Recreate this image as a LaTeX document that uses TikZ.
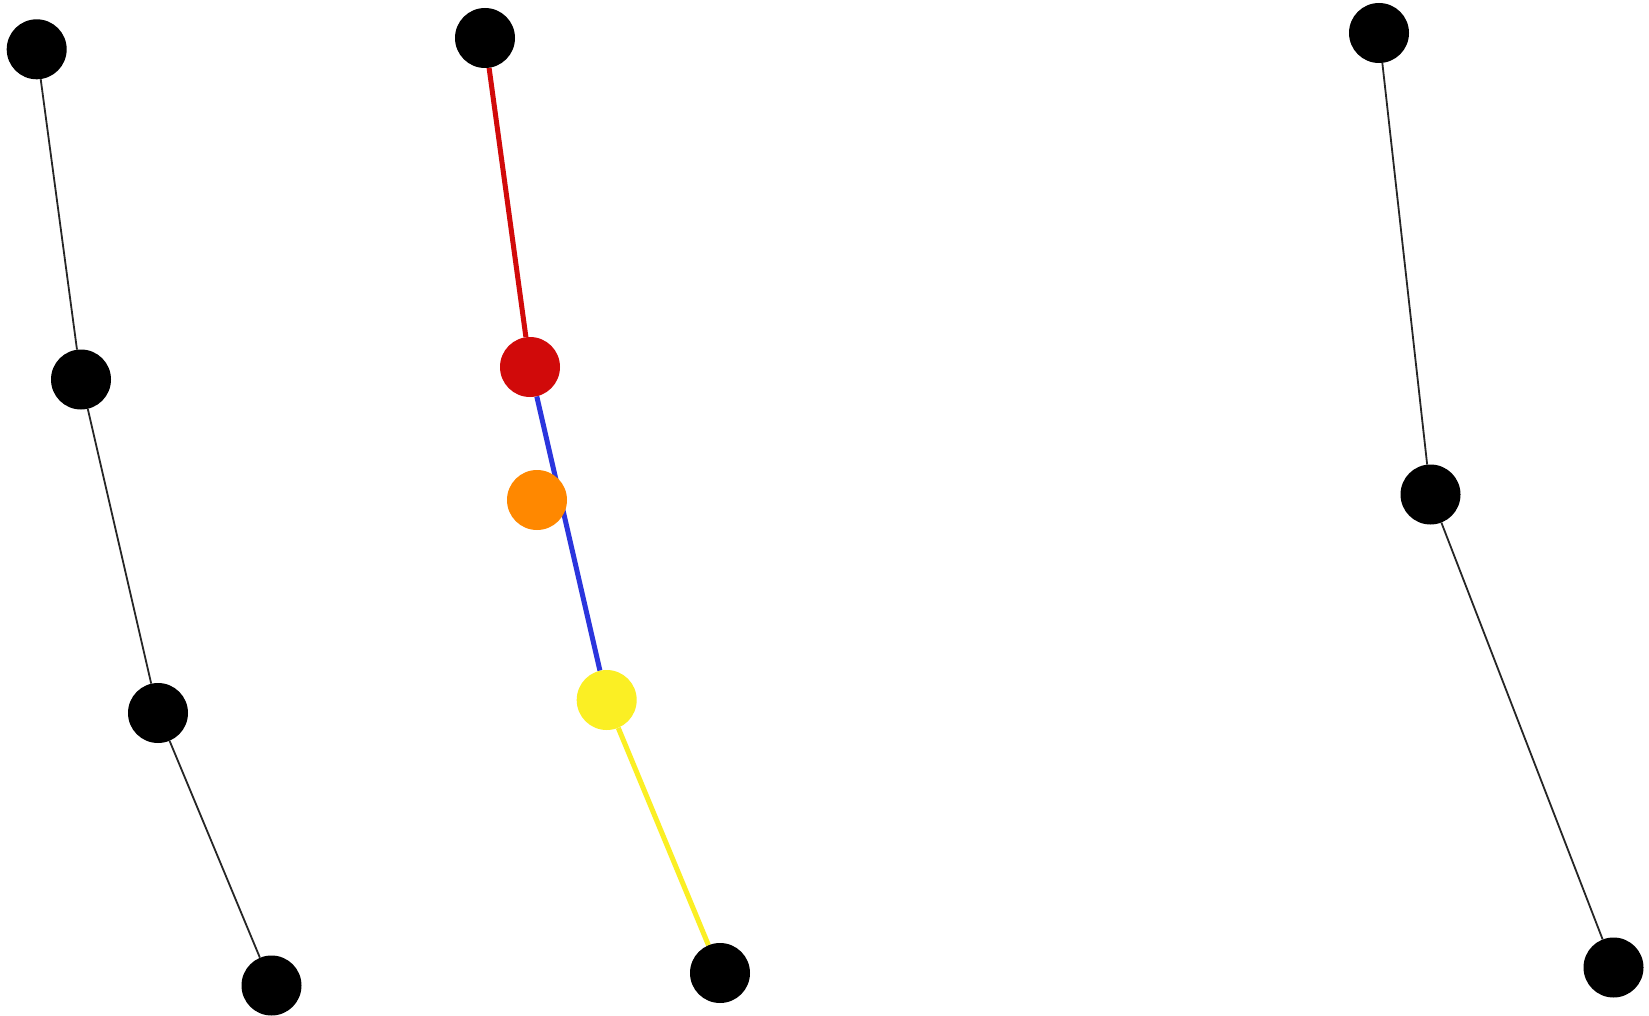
\documentclass[tikz,border=0pt]{standalone}
\usetikzlibrary{backgrounds}
\definecolor{dred}{HTML}{D10A0A}
\definecolor{dblue}{HTML}{2B35DD}
\definecolor{dorange}{HTML}{FF8800}
\definecolor{dyellow}{HTML}{FBEF24}
\tikzset{
  dot/.style={circle, minimum size=60pt, inner sep=0pt, fill=#1, draw=none},
  dot/.default=black,
  thinedge/.style={draw=black!85, line width=1.8pt},
  thickedge/.style={draw=#1, line width=5pt},
}
\begin{document}
\begin{tikzpicture}[x=1pt,y=-1pt]
\useasboundingbox (0,0) rectangle (1649,1016);
% left column
\node[dot] (a1) at (36.7,49.3) {};
\node[dot] (a2) at (81,379.5) {};
\node[dot] (a3) at (158,713) {};
\node[dot] (a4) at (271.5,985.5) {};
% middle column
\node[dot] (b1) at (485,38) {};
\node[dot=dred] (b2) at (530,367) {};
\node[dot=dorange] (b3) at (537,500) {};
\node[dot=dyellow] (b4) at (606.7,700) {};
\node[dot] (b5) at (720,973) {};
% right column
\node[dot] (c1) at (1379,33) {};
\node[dot] (c2) at (1430.5,494.5) {};
\node[dot] (c3) at (1613.5,967.5) {};
\begin{scope}[on background layer]
\fill[white] (0,0) rectangle (1649,1016);
\draw[thinedge] (a1) -- (a2);
\draw[thinedge] (a2) -- (a3);
\draw[thinedge] (a3) -- (a4);
\draw[thickedge=dred] (b1) -- (b2);
\draw[thickedge=dblue] (b2) -- (b4);
\draw[thickedge=dyellow] (b4) -- (b5);
\draw[thinedge] (c1) -- (c2);
\draw[thinedge] (c2) -- (c3);
\end{scope}
\end{tikzpicture}
\end{document}
